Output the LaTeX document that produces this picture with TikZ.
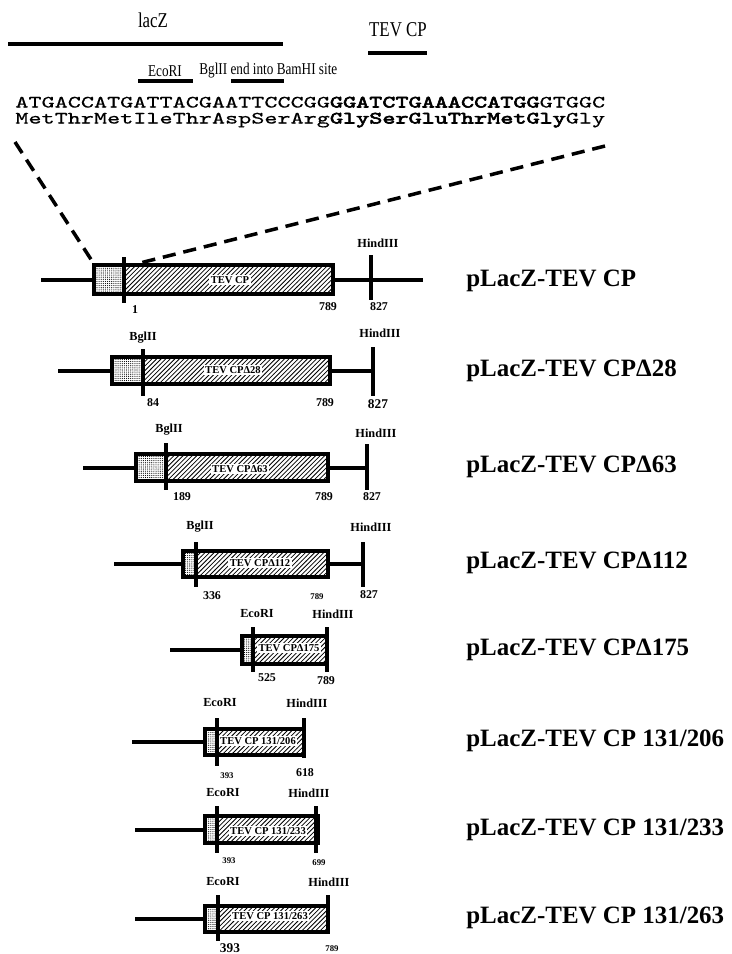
\documentclass[tikz,border=0pt]{standalone}
\usepackage{fontspec}
\setmainfont{Liberation Serif}
\newfontfamily\condserif[FakeStretch=0.8]{Liberation Serif}
\newfontfamily\seqfont[Extension=.otf, FakeStretch=1.45, FakeBold=0.6]{lmmono10-regular}
\newfontfamily\seqbold[Extension=.otf, FakeStretch=1.45, FakeBold=3.5]{lmmono10-regular}
\usepackage{tikz}
\usetikzlibrary{patterns}

% fill patterns for the insert boxes
\pgfdeclarepatternformonly{hatchlines}{\pgfqpoint{-1pt}{-1pt}}{\pgfqpoint{3.6pt}{3.6pt}}{\pgfqpoint{2.6pt}{2.6pt}}{%
  \pgfsetlinewidth{0.45pt}%
  \pgfpathmoveto{\pgfqpoint{0pt}{0pt}}%
  \pgfpathlineto{\pgfqpoint{2.7pt}{2.7pt}}%
  \pgfusepath{stroke}}
\pgfdeclarepatternformonly{stipple}{\pgfqpoint{-0.5pt}{-0.5pt}}{\pgfqpoint{1.5pt}{1.5pt}}{\pgfqpoint{1.2pt}{1.2pt}}{%
  \pgfpathcircle{\pgfqpoint{0pt}{0pt}}{0.33pt}%
  \pgfusepath{fill}}

\begin{document}
\begin{tikzpicture}[
  x=0.02cm, y=-0.02cm,
  dna/.style={line width=1.8pt},
  blank/.style={fill=white},
  box/.style={draw, line width=1.8pt},
  stip/.style={pattern=stipple},
  hatch/.style={pattern=hatchlines},
  cutsite/.style={line width=1.8pt},
  bar/.style={line width=2.2pt},
  site/.style={font=\fontsize{7}{8}\selectfont\bfseries, inner sep=0pt},
  num/.style={font=\fontsize{6.8}{8}\selectfont\bfseries, inner sep=0pt},
  smallnum/.style={num, font=\fontsize{5}{6}\selectfont\bfseries},
  bignum/.style={num, font=\fontsize{7.6}{9}\selectfont\bfseries},
  inlbl/.style={font=\fontsize{6}{7}\selectfont\bfseries, fill=white, inner sep=0.8pt},
  plasmid/.style={anchor=west, font=\fontsize{14.2}{16}\selectfont\bfseries, inner sep=0pt},
  seq/.style={anchor=base west, inner sep=0pt, font=\seqfont\fontsize{9.8}{11}\selectfont},
  genelbl/.style={inner sep=0pt, font=\condserif\fontsize{12}{14}\selectfont},
  sitelbl/.style={inner sep=0pt, font=\condserif\fontsize{9.4}{11}\selectfont},
  zoomline/.style={line width=2pt, dash pattern=on 7.5pt off 4.5pt},
]
\useasboundingbox (0,0) rectangle (731,954);

% === Junction sequence ===
\node[genelbl] (lacz) at (153,20) {lacZ};
\draw[bar] (8,44) -- (283,44);
\node[genelbl] (tevcp) at (398,30) {TEV CP};
\draw[bar] (368,53) -- (427,53);
\node[sitelbl] (ecori) at (165,71) {EcoRI};
\draw[bar] (138,81) -- (193,81);
\node[sitelbl, anchor=west] (bglbam) at (199,71) {BglII end into BamHI site};
\draw[bar] (231,81) -- (284,81);
\node[seq] (nt) at (15,107.5) {ATGACCATGATTACGAATTCCCGG{\seqbold GGATCTGAAACCATGG}GTGGC};
\node[seq] (aa) at (15,123.5) {MetThrMetIleThrAspSerArg{\seqbold GlySerGluThrMetGly}Gly};

% zoom lines down to the first construct
\coordinate (zl) at (15,142);
\coordinate (zr) at (605,146);
\coordinate (c1) at (94,264);
\coordinate (c2) at (140,263);
\draw[zoomline] (zl) -- (c1);
\draw[zoomline] (zr) -- (c2);

% === Row 1: pLacZ-TEV CP ===
\draw[dna] (41,280) -- (423,280);
\fill[blank] (94,265) rectangle (333,294);
\fill[stip] (94,265) rectangle (124,294);
\fill[hatch] (124,265) rectangle (333,294);
\draw[box] (94,265) rectangle (333,294);
\draw[cutsite] (124,257) -- (124,303);
\draw[cutsite] (371,255) -- (371,300);
\node[inlbl] (in1) at (230,280) {TEV CP};
\node[site] (hind1) at (378,243) {HindIII};
\node[num] (a1) at (135,310) {1};
\node[num] (b1) at (328,307) {789};
\node[num] (h1) at (379,307) {827};
\node[plasmid] (p1) at (466,281) {pLacZ-TEV CP};

% === Row 2: pLacZ-TEV CP delta 28 ===
\draw[dna] (58,371) -- (373,371);
\fill[blank] (112,357) rectangle (330,384);
\fill[stip] (112,357) rectangle (143,384);
\fill[hatch] (143,357) rectangle (330,384);
\draw[box] (112,357) rectangle (330,384);
\draw[cutsite] (143,349) -- (143,396);
\draw[cutsite] (373,347) -- (373,396);
\node[inlbl] (in2) at (233,370) {TEV CPΔ28};
\node[site] (bgl2) at (143,338) {BglII};
\node[site] (hind2) at (380,333) {HindIII};
\node[num] (a2) at (153,403) {84};
\node[num] (b2) at (325,403) {789};
\node[bignum] (h2) at (378,404) {827};
\node[plasmid] (p2) at (466,371) {pLacZ-TEV CPΔ28};

% === Row 3: pLacZ-TEV CP delta 63 ===
\draw[dna] (83,468) -- (367,468);
\fill[blank] (136,454) rectangle (328,481);
\fill[stip] (136,454) rectangle (166,481);
\fill[hatch] (166,454) rectangle (328,481);
\draw[box] (136,454) rectangle (328,481);
\draw[cutsite] (166,443) -- (166,490);
\draw[cutsite] (367,444) -- (367,490);
\node[inlbl] (in3) at (240,469) {TEV CPΔ63};
\node[site] (bgl3) at (169,430) {BglII};
\node[site] (hind3) at (376,433) {HindIII};
\node[num] (a3) at (182,497) {189};
\node[num] (b3) at (324,497) {789};
\node[num] (h3) at (372,497) {827};
\node[plasmid] (p3) at (466,467) {pLacZ-TEV CPΔ63};

% === Row 4: pLacZ-TEV CP delta 112 ===
\draw[dna] (114,564) -- (363,564);
\fill[blank] (183,551) rectangle (328,577);
\fill[stip] (183,551) rectangle (196,577);
\fill[hatch] (196,551) rectangle (328,577);
\draw[box] (183,551) rectangle (328,577);
\draw[cutsite] (196,542) -- (196,587);
\draw[cutsite] (363,542) -- (363,587);
\node[inlbl] (in4) at (260,563) {TEV CPΔ112};
\node[site] (bgl4) at (200,527) {BglII};
\node[site] (hind4) at (371,527) {HindIII};
\node[num] (a4) at (212,596) {336};
\node[smallnum] (b4) at (317,597) {789};
\node[num] (h4) at (369,595) {827};
\node[plasmid] (p4) at (466,563) {pLacZ-TEV CPΔ112};

% === Row 5: pLacZ-TEV CP delta 175 ===
\draw[dna] (170,650) -- (242,650);
\fill[blank] (242,636) rectangle (327,664);
\fill[stip] (242,636) rectangle (253,664);
\fill[hatch] (253,636) rectangle (327,664);
\draw[box] (242,636) rectangle (327,664);
\draw[cutsite] (253,627) -- (253,672);
\draw[cutsite] (327,627) -- (327,672);
\node[inlbl] (in5) at (289,648) {TEV CPΔ175};
\node[site] (eco5) at (257,614) {EcoRI};
\node[site] (hind5) at (333,614) {HindIII};
\node[num] (a5) at (267,678) {525};
\node[num] (b5) at (326,681) {789};
\node[plasmid] (p5) at (466,650) {pLacZ-TEV CPΔ175};

% === Row 6: pLacZ-TEV CP 131/206 ===
\draw[dna] (132,742) -- (205,742);
\fill[blank] (205,729) rectangle (304,755);
\fill[stip] (205,729) rectangle (217,755);
\fill[hatch] (217,729) rectangle (304,755);
\draw[box] (205,729) rectangle (304,755);
\draw[cutsite] (217,718) -- (217,766);
\draw[cutsite] (304,718) -- (304,758);
\node[inlbl] (in6) at (258,741) {TEV CP 131/206};
\node[site] (eco6) at (220,703) {EcoRI};
\node[site] (hind6) at (307,703) {HindIII};
\node[smallnum] (a6) at (227,776) {393};
\node[num] (b6) at (305,773) {618};
\node[plasmid] (p6) at (466,741) {pLacZ-TEV CP 131/206};

% === Row 7: pLacZ-TEV CP 131/233 ===
\draw[dna] (135,830) -- (205,830);
\fill[blank] (205,816) rectangle (318,843);
\fill[stip] (205,816) rectangle (217,843);
\fill[hatch] (217,816) rectangle (318,843);
\draw[box] (205,816) rectangle (318,843);
\draw[cutsite] (217,806) -- (217,853);
\draw[cutsite] (316,806) -- (316,853);
\node[inlbl] (in7) at (268,831) {TEV CP 131/233};
\node[site] (eco7) at (223,793) {EcoRI};
\node[site] (hind7) at (309,793) {HindIII};
\node[smallnum] (a7) at (229,861) {393};
\node[smallnum] (b7) at (319,863) {699};
\node[plasmid] (p7) at (466,830) {pLacZ-TEV CP 131/233};

% === Row 8: pLacZ-TEV CP 131/263 ===
\draw[dna] (135,919) -- (205,919);
\fill[blank] (205,906) rectangle (328,932);
\fill[stip] (205,906) rectangle (218,932);
\fill[hatch] (218,906) rectangle (328,932);
\draw[box] (205,906) rectangle (328,932);
\draw[cutsite] (218,895) -- (218,941);
\draw[cutsite] (328,895) -- (328,932);
\node[inlbl] (in8) at (270,916) {TEV CP 131/263};
\node[site] (eco8) at (223,882) {EcoRI};
\node[site] (hind8) at (329,882) {HindIII};
\node[bignum] (a8) at (230,948) {393};
\node[smallnum] (b8) at (332,949) {789};
\node[plasmid] (p8) at (466,918) {pLacZ-TEV CP 131/263};

\end{tikzpicture}
\end{document}
